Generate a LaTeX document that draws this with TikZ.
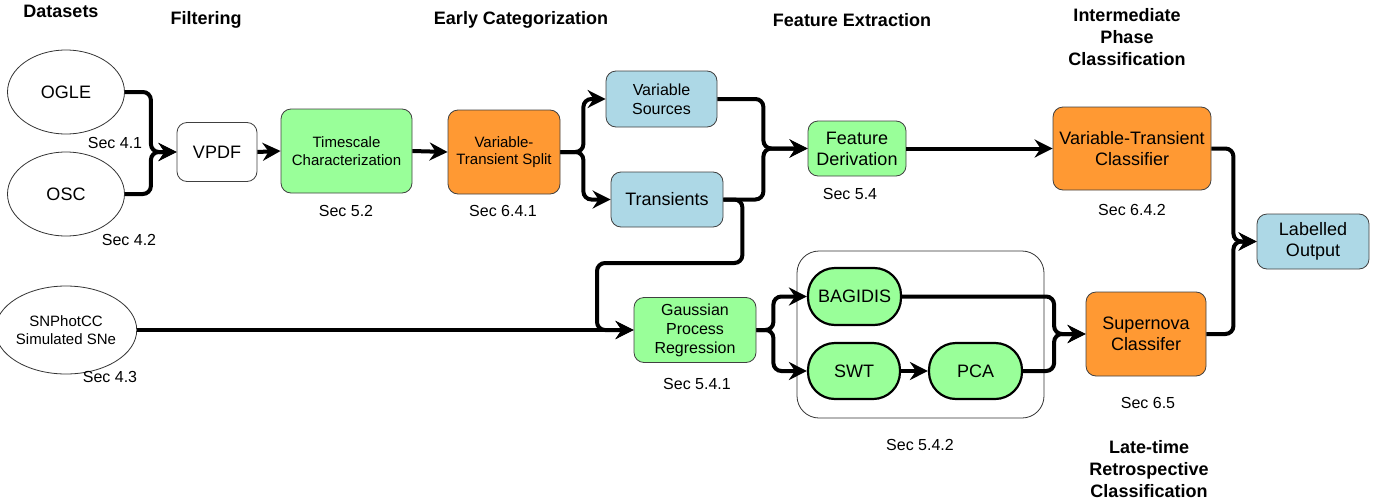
\documentclass[tikz,border=0pt]{standalone}
\usepackage{fontspec}
\setmainfont{Liberation Sans}
\usetikzlibrary{shapes.geometric,arrows.meta}
\definecolor{gfill}{RGB}{153,255,153}
\definecolor{ofill}{RGB}{255,153,51}
\definecolor{bfill}{RGB}{173,216,230}
\begin{document}
\begin{tikzpicture}[x=1pt,y=-1pt,
  f18/.style={font=\fontsize{18}{21}\selectfont},
  f16/.style={font=\fontsize{16}{19}\selectfont},
  f15/.style={font=\fontsize{15}{17.5}\selectfont},
  hdr/.style={font=\fontsize{18}{22}\selectfont\bfseries, align=center, inner sep=0pt},
  sec/.style={font=\fontsize{16}{19}\selectfont, inner sep=0pt},
  rbox/.style={draw=black!75, line width=0.8pt, rounded corners=10pt, align=center, inner sep=1pt},
  oval/.style={draw=black!80, line width=0.8pt, ellipse, align=center, inner sep=0pt},
  pill/.style={draw=black, line width=2.2pt, rounded corners=27pt, fill=gfill, align=center, inner sep=1pt, f18},
  conn/.style={line width=4pt, rounded corners=8pt},
  arr/.style={conn, -{Stealth[length=18pt,width=18pt,inset=6pt]}}
]
\useasboundingbox (0,0) rectangle (1376,498);

% headers
\node[hdr] (hD) at (61,11) {Datasets};
\node[hdr] (hF) at (206,20) {Filtering};
\node[hdr] (hE) at (521,20) {Early Categorization};
\node[hdr] (hX) at (852,20) {Feature Extraction};
\node[hdr] (hI) at (1127,37) {Intermediate\\Phase\\Classification};
\node[hdr] (hL) at (1149,469) {Late-time\\Retrospective\\Classification};

% nodes
\node[oval, f18, minimum width=117pt, minimum height=84pt] (ogle) at (66,92) {OGLE};
\node[oval, f18, minimum width=117pt, minimum height=84pt] (osc) at (66,194) {OSC};
\node[oval, f15, minimum width=117pt, minimum height=88pt] (snp) at (66,330) {SNPhotCC\\Simulated SNe};

\node[rbox, f18, fill=white, minimum width=80pt, minimum height=59pt] (vpdf) at (217,152) {VPDF};
\node[rbox, f15, fill=gfill, minimum width=131pt, minimum height=84pt] (ts) at (346.5,151) {Timescale\\Characterization};
\node[rbox, f15, fill=ofill, minimum width=112pt, minimum height=84pt] (vts) at (504,152) {Variable-\\Transient Split};
\node[rbox, f16, fill=bfill, minimum width=111pt, minimum height=56pt] (vs) at (661.5,99) {Variable\\Sources};
\node[rbox, f18, fill=bfill, minimum width=112pt, minimum height=55pt] (tr) at (667,199.5) {Transients};
\node[rbox, f18, fill=gfill, minimum width=98pt, minimum height=55pt] (fd) at (857,148.5) {Feature\\Derivation};
\node[rbox, f18, fill=ofill, minimum width=158pt, minimum height=83pt] (vtc) at (1132,148.5) {Variable-Transient\\Classifier};
\node[rbox, f16, fill=gfill, minimum width=122pt, minimum height=65pt] (gpr) at (695,330) {Gaussian\\Process\\Regression};
\node[rbox, f18, fill=ofill, minimum width=120pt, minimum height=84pt] (snc) at (1146,334) {Supernova\\Classifer};
\node[rbox, f18, fill=bfill, minimum width=112pt, minimum height=55pt] (lo) at (1313,241.5) {Labelled\\Output};

\draw[draw=black!80, line width=0.8pt, rounded corners=22pt] (797,251) rectangle (1044,418);
\node[pill, minimum width=93pt, minimum height=57pt] (bag) at (854.5,296.5) {BAGIDIS};
\node[pill, minimum width=92pt, minimum height=56pt] (swt) at (854,371) {SWT};
\node[pill, minimum width=93pt, minimum height=56pt] (pca) at (975.5,371) {PCA};

% section labels
\node[sec] (s41) at (115,143) {Sec 4.1};
\node[sec] (s42) at (129,240) {Sec 4.2};
\node[sec] (s43) at (110,377) {Sec 4.3};
\node[sec] (s52) at (346,211) {Sec 5.2};
\node[sec] (s641) at (503,211) {Sec 6.4.1};
\node[sec] (s54) at (850,194) {Sec 5.4};
\node[sec] (s541) at (697,384) {Sec 5.4.1};
\node[sec] (s542) at (920,445) {Sec 5.4.2};
\node[sec] (s642) at (1132,210) {Sec 6.4.2};
\node[sec] (s65) at (1148,403) {Sec 6.5};

% connectors
\draw[arr] (ogle.east) -- ++(26,0) |- (vpdf.west);
\draw[arr] (osc.east) -- ++(26,0) |- (vpdf.west);
\draw[arr] (vpdf.east) -- (ts.west);
\draw[arr] (ts.east) -- (vts.west);
\draw[arr] (vts.east) -- ++(23,0) |- (vs.west);
\draw[arr] (vts.east) -- ++(23,0) |- (tr.west);
\draw[arr] (vs.east) -- ++(46,0) |- (fd.west);
\draw[arr] (tr.east) -- ++(40,0) |- (fd.west);
\coordinate (c1) at (597,263);
\draw[arr] (tr.east) -- ++(19,0) |- (c1) |- (gpr.west);
\draw[arr] (snp.east) -- (gpr.west);
\draw[arr] (fd.east) -- (vtc.west);
\draw[arr] (gpr.east) -- ++(17,0) |- (bag.west);
\draw[arr] (gpr.east) -- ++(17,0) |- (swt.west);
\draw[arr] (swt.east) -- (pca.west);
\draw[arr] (bag.east) -- ++(152,0) |- (snc.west);
\draw[arr] (pca.east) -- ++(31,0) |- (snc.west);
\draw[arr] (vtc.east) -- ++(22,0) |- (lo.west);
\draw[arr] (snc.east) -- ++(27,0) |- (lo.west);
\end{tikzpicture}
\end{document}
